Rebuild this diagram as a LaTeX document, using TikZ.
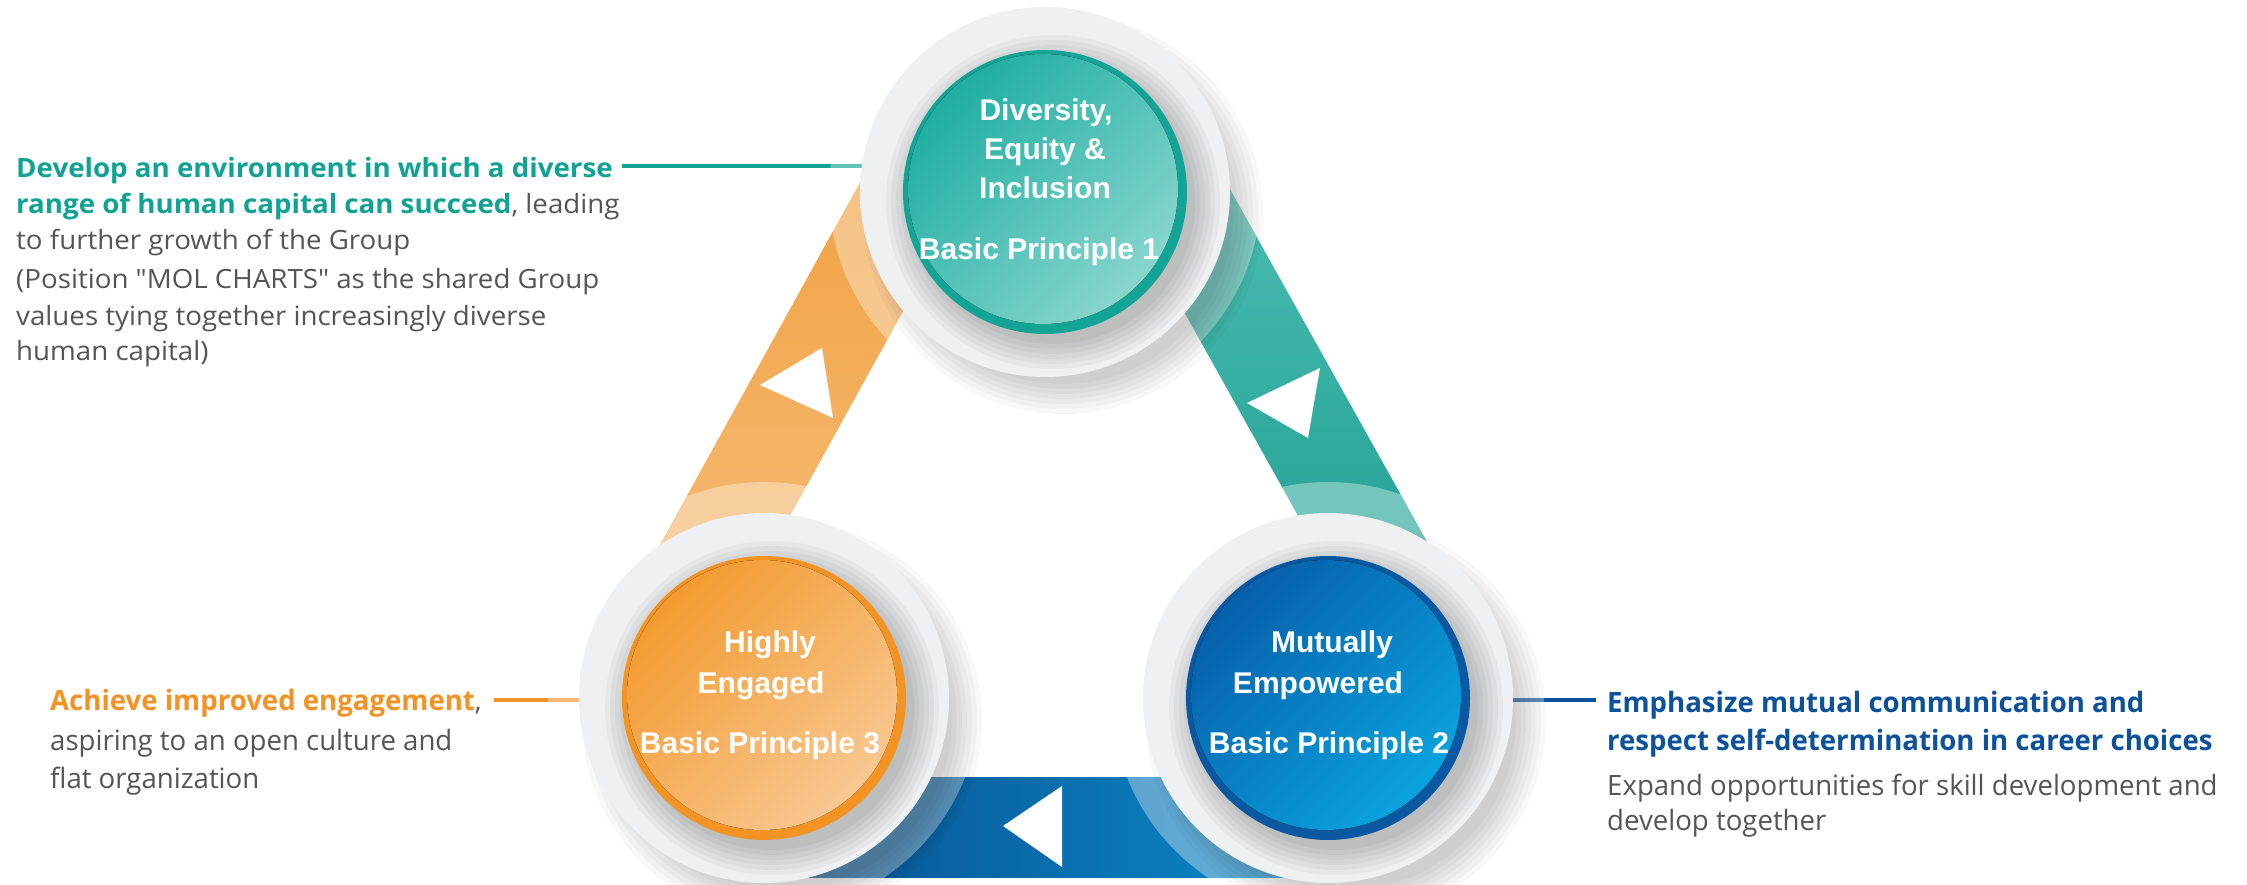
\documentclass[tikz,border=0pt]{standalone}
\usepackage{fontspec}
\setmainfont{Open Sans}
\newfontfamily\sidefontA[FakeStretch=1.045]{Open Sans}
\newfontfamily\sidefontB[FakeStretch=0.985]{Open Sans}
\newfontfamily\discfont{Liberation Sans}
\usetikzlibrary{calc}

\definecolor{tealText}{HTML}{10A394}
\definecolor{orangeText}{HTML}{F39325}
\definecolor{blueText}{HTML}{0B519C}
\definecolor{grayText}{HTML}{555555}
\definecolor{discLight}{HTML}{EEF0F1}
\definecolor{discMid}{HTML}{DFE2E4}
\definecolor{discDark}{HTML}{C2C6C9}
\definecolor{tealRim}{HTML}{14A496}
\definecolor{tealIn}{HTML}{1FAEA1}
\definecolor{tealOut}{HTML}{88D6CE}
\definecolor{tealBandA}{HTML}{52C0B4}
\definecolor{tealBandB}{HTML}{1A9C8F}
\definecolor{orRim}{HTML}{F29324}
\definecolor{orIn}{HTML}{F39B30}
\definecolor{orOut}{HTML}{F8C892}
\definecolor{orBandA}{HTML}{F09E3A}
\definecolor{orBandB}{HTML}{F6BF7E}
\definecolor{blRim}{HTML}{0A58A2}
\definecolor{blIn}{HTML}{0760AA}
\definecolor{blOut}{HTML}{0AA3DE}
\definecolor{blBandA}{HTML}{0A4F8E}
\definecolor{blBandB}{HTML}{0A8BCB}

% light disc, darkening towards its lower right rim
\pgfdeclareradialshading{outerdisc}{\pgfpoint{-10bp}{10bp}}{%
  color(0bp)=(discLight); color(53bp)=(discLight); color(59bp)=(discMid);
  color(66bp)=(discDark); color(80bp)=(discDark)}

\tikzset{
  band/.style={rectangle, draw=none, minimum height=100pt, inner sep=0pt},
  arrowtri/.style={fill=white, draw=none},
  disc/.style={circle, minimum size=370pt, inner sep=0pt, shade, shading=outerdisc},
  leader/.style={line width=3.5pt},
  sideline/.style={anchor=base west, inner sep=0pt, text=grayText},
  sidesmall/.style={sideline, font=\sidefontA\fontsize{26.5}{36}\selectfont},
  sidebig/.style={sideline, font=\sidefontB\fontsize{28}{38}\selectfont},
  disclabel/.style={anchor=base, inner sep=0pt, text=white,
    font=\discfont\bfseries\fontsize{30}{36}\selectfont},
}

\begin{document}
\begin{tikzpicture}[x=1pt,y=-1pt]
\fill[white] (0,0) rectangle (2247,885);
\useasboundingbox (0,0) rectangle (2247,885);

\coordinate (cT) at (1045,192);
\coordinate (cL) at (764,698);
\coordinate (cR) at (1328,698);

% connecting bands
\node[band, minimum width=580pt, rotate=61.1,
      top color=orBandA, bottom color=orBandB] (bandOr) at (803,389) {};
\node[band, minimum width=580pt, rotate=-60.8,
      top color=tealBandA, bottom color=tealBandB] (bandTe) at (1285,390) {};
\node[band, minimum width=564pt,
      left color=blBandA, right color=blBandB] (bandBl) at (1046,827) {};

% direction marks on the bands
\fill[arrowtri] (822,348) -- (760,385) -- (833,418) -- cycle;
\fill[arrowtri] (1320,368) -- (1247,403) -- (1308,438) -- cycle;
\fill[arrowtri] (1062,786) -- (1003,826) -- (1062,867) -- cycle;

% leader lines, running in under the discs
\coordinate (lead1) at (622,166);
\coordinate (lead2) at (494,700);
\coordinate (lead3) at (1596,700);
\draw[leader, tealText] (lead1) -- (lead1 -| cT);
\draw[leader, orangeText] (lead2) -- (lead2 -| cL);
\draw[leader, blueText] (lead3) -- (lead3 -| cR);

% halos and soft drop shadows around the three discs
\foreach \c in {cT,cL,cR}{
  \fill[white, opacity=0.35] (\c) circle (216);
  \foreach \r in {170,175,...,200}
    \fill[black, opacity=0.027] ($(\c)+(18,22)$) circle (\r);
}

% discs
\node[disc] (T) at (cT) {};
\node[disc] (L) at (cL) {};
\node[disc] (R) at (cR) {};

% shadow of the coloured faces on the discs
\foreach \c in {cT,cL,cR}{
  \begin{scope}
    \clip (\c) circle (185);
    \foreach \r in {142,147,...,167}
      \fill[black, opacity=0.035] ($(\c)+(8,10)$) circle (\r);
  \end{scope}
}

% coloured faces
\fill[tealRim] (cT) circle (142);
\fill[top color=tealIn, bottom color=tealOut, shading angle=45] ($(cT)+(-2,-3)$) circle (135);
\fill[orRim] (cL) circle (142);
\fill[top color=orIn, bottom color=orOut, shading angle=45] ($(cL)+(-2,-3)$) circle (135);
\fill[blRim] (cR) circle (142);
\fill[top color=blIn, bottom color=blOut, shading angle=45] ($(cR)+(-2,-3)$) circle (135);

% disc labels
\node[disclabel] (t1) at (1046,121) {Diversity,};
\node[disclabel] (t2) at (1045,160) {Equity \&};
\node[disclabel] (t3) at (1045,199) {Inclusion};
\node[disclabel] (t4) at (1039,260) {Basic Principle 1};

\node[disclabel] (l1) at (770,652) {Highly};
\node[disclabel] (l2) at (761,693) {Engaged};
\node[disclabel] (l3) at (760,753) {Basic Principle 3};

\node[disclabel] (r1) at (1332,652) {Mutually};
\node[disclabel] (r2) at (1318,693) {Empowered};
\node[disclabel] (r3) at (1329,753) {Basic Principle 2};

% side texts
\node[sidesmall] (a1) at (16,178) {\bfseries\color{tealText}Develop an environment in which a diverse};
\node[sidesmall] (a2) at (16,214) {{\bfseries\color{tealText}range of human capital can succeed}, leading};
\node[sidesmall] (a3) at (16,250) {to further growth of the Group};
\node[sidesmall] (a4) at (16,289) {(Position "MOL CHARTS" as the shared Group};
\node[sidesmall] (a5) at (16,326) {values tying together increasingly diverse};
\node[sidesmall] (a6) at (16,361) {human capital)};

\node[sidebig] (b1) at (50,710) {{\bfseries\color{orangeText}Achieve improved engagement},};
\node[sidebig] (b2) at (50,750) {aspiring to an open culture and};
\node[sidebig] (b3) at (50,788) {flat organization};

\node[sidebig] (c1) at (1607,712) {\bfseries\color{blueText}Emphasize mutual communication and};
\node[sidebig] (c2) at (1607,750) {\bfseries\color{blueText}respect self-determination in career choices};
\node[sidebig] (c3) at (1607,795) {Expand opportunities for skill development and};
\node[sidebig] (c4) at (1607,830) {develop together};
\end{tikzpicture}
\end{document}
